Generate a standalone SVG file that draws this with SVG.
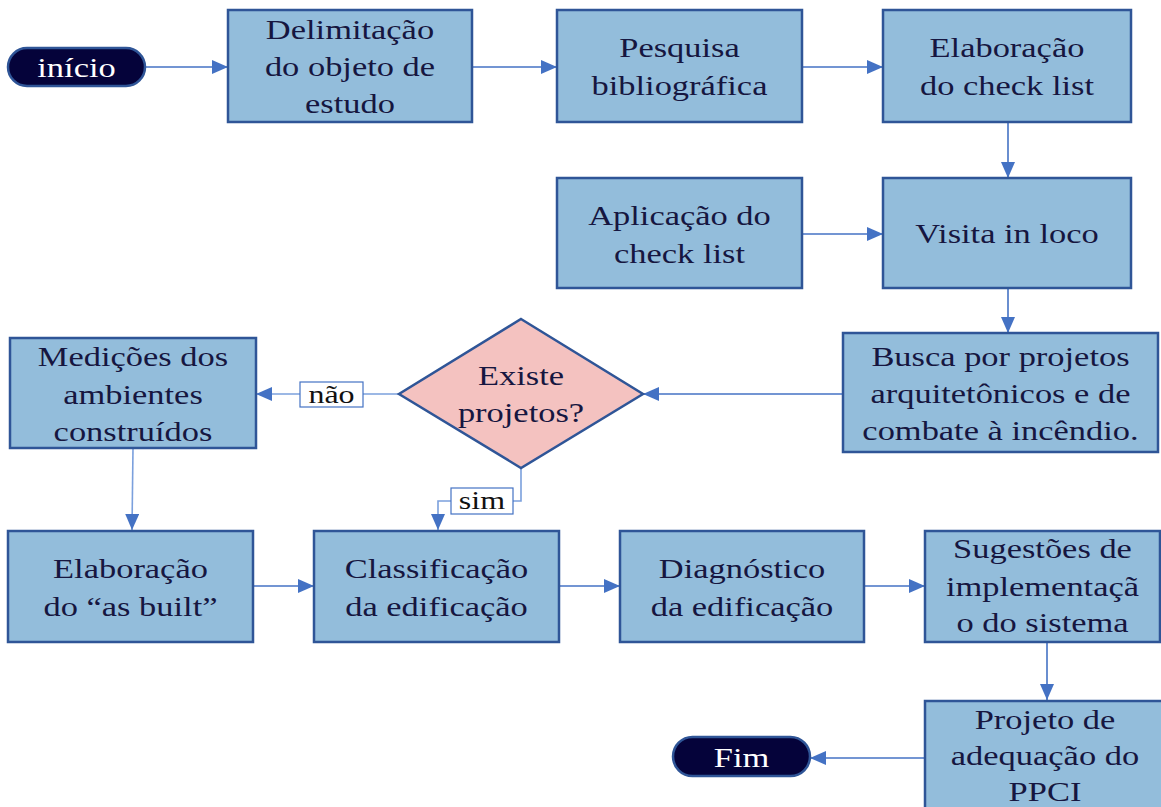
<svg xmlns="http://www.w3.org/2000/svg" width="1161" height="807" viewBox="0 0 1161 807">
<style>
  .box { fill: #93bddb; stroke: #2f5597; stroke-width: 2.5; }
  .dia { fill: #f4c2c0; stroke: #2f5597; stroke-width: 2.5; }
  .term { fill: #05033a; stroke: #2f5597; stroke-width: 2.5; }
  .t { font-family: "Liberation Serif", "Times New Roman", serif; font-size: 28px; fill: #161640; text-anchor: middle;
       transform-box: fill-box; transform-origin: center; transform: scaleX(1.23); }
  .tw { fill: #ffffff; }
  .lbl { font-size: 26px; fill: #111111; }
  .lblbox { fill: #ffffff; stroke: #4472c4; stroke-width: 1.2; }
  .c { fill: none; stroke: #4472c4; stroke-width: 1.6; marker-end: url(#ah); }
  .cl { stroke: #7ba0dd; }
</style>
<defs>
  <marker id="ah" markerUnits="userSpaceOnUse" markerWidth="16" markerHeight="14" refX="16" refY="7" orient="auto">
    <path d="M0,0 L16,7 L0,14 Z" fill="#4472c4"/>
  </marker>
</defs>
<rect width="1161" height="807" fill="#ffffff"/>

<g id="connectors">
  <path class="c" d="M145,67 H228"/>
  <path class="c" d="M472,67 H557"/>
  <path class="c" d="M802,67 H883"/>
  <path class="c" d="M1008,122 V178"/>
  <path class="c" d="M802,234 H883"/>
  <path class="c" d="M1008,288 V333"/>
  <path class="c" d="M843,394 H643"/>
  <path class="c cl" d="M399,394 H256"/>
  <path class="c cl" d="M521,468 V501 H438 V530"/>
  <path class="c cl" d="M133,448 L132,530"/>
  <path class="c" d="M253,586 H314"/>
  <path class="c" d="M559,586 H620"/>
  <path class="c" d="M864,586 H925"/>
  <path class="c" d="M1047,643 V700"/>
  <path class="c" d="M925,758 H810"/>
  <g id="label-nao">
    <rect class="lblbox" x="300" y="382" width="63" height="25"/>
    <text class="t lbl" x="331.5" y="403">não</text>
  </g>
  <g id="label-sim">
    <rect class="lblbox" x="451" y="488" width="62" height="26"/>
    <text class="t lbl" x="482" y="509">sim</text>
  </g>
</g>

<g id="inicio">
  <rect class="term" x="8" y="48" width="137" height="38" rx="19"/>
  <text class="t tw" x="76.5" y="77">início</text>
</g>

<g id="delimitacao">
  <rect class="box" x="228" y="10" width="244" height="112"/>
  <text class="t" x="350" y="39"><tspan x="350">Delimitação</tspan><tspan x="350" y="76">do objeto de</tspan><tspan x="350" y="113">estudo</tspan></text>
</g>

<g id="pesquisa">
  <rect class="box" x="557" y="10" width="245" height="112"/>
  <text class="t" x="679.5" y="57"><tspan x="679.5">Pesquisa</tspan><tspan x="679.5" y="95">bibliográfica</tspan></text>
</g>

<g id="elaboracao-check">
  <rect class="box" x="883" y="10" width="248" height="112"/>
  <text class="t" x="1007" y="57"><tspan x="1007">Elaboração</tspan><tspan x="1007" y="95">do check list</tspan></text>
</g>

<g id="aplicacao">
  <rect class="box" x="557" y="178" width="245" height="110"/>
  <text class="t" x="679.5" y="225"><tspan x="679.5">Aplicação do</tspan><tspan x="679.5" y="263">check list</tspan></text>
</g>

<g id="visita">
  <rect class="box" x="883" y="178" width="248" height="110"/>
  <text class="t" x="1007" y="243">Visita in loco</text>
</g>

<g id="busca">
  <rect class="box" x="843" y="333" width="315" height="119"/>
  <text class="t" x="1000.5" y="366"><tspan x="1000.5">Busca por projetos</tspan><tspan x="1000.5" y="403">arquitetônicos e de</tspan><tspan x="1000.5" y="440">combate à incêndio.</tspan></text>
</g>

<g id="existe">
  <polygon class="dia" points="521,319 643,394 521,468 399,394"/>
  <text class="t" x="521" y="385"><tspan x="521">Existe</tspan><tspan x="521" y="422">projetos?</tspan></text>
</g>

<g id="medicoes">
  <rect class="box" x="10" y="338" width="246" height="110"/>
  <text class="t" x="133" y="366"><tspan x="133">Medições dos</tspan><tspan x="133" y="404">ambientes</tspan><tspan x="133" y="441">construídos</tspan></text>
</g>

<g id="as-built">
  <rect class="box" x="8" y="531" width="245" height="111"/>
  <text class="t" x="130.5" y="578"><tspan x="130.5">Elaboração</tspan><tspan x="130.5" y="616">do “as built”</tspan></text>
</g>

<g id="classificacao">
  <rect class="box" x="314" y="531" width="245" height="111"/>
  <text class="t" x="436.5" y="578"><tspan x="436.5">Classificação</tspan><tspan x="436.5" y="616">da edificação</tspan></text>
</g>

<g id="diagnostico">
  <rect class="box" x="620" y="531" width="244" height="111"/>
  <text class="t" x="742" y="578"><tspan x="742">Diagnóstico</tspan><tspan x="742" y="616">da edificação</tspan></text>
</g>

<g id="sugestoes">
  <rect class="box" x="925" y="531" width="235" height="111"/>
  <text class="t" x="1042.5" y="558"><tspan x="1042.5">Sugestões de</tspan><tspan x="1042.5" y="596">implementaçã</tspan><tspan x="1042.5" y="632">o do sistema</tspan></text>
</g>

<g id="projeto">
  <rect class="box" x="925" y="701" width="240" height="114"/>
  <text class="t" x="1045" y="729"><tspan x="1045">Projeto de</tspan><tspan x="1045" y="765">adequação do</tspan><tspan x="1045" y="801">PPCI</tspan></text>
</g>

<g id="fim">
  <rect class="term" x="673" y="737" width="137" height="39" rx="19.5"/>
  <text class="t tw" x="741.5" y="767">Fim</text>
</g>
</svg>
